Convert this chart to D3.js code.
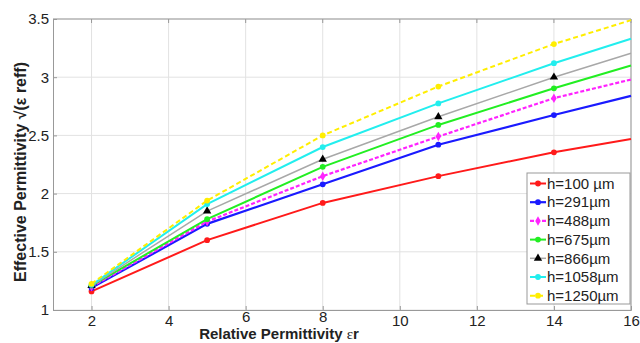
<!DOCTYPE html>
<html>
<head>
<meta charset="utf-8">
<script src="https://cdn.jsdelivr.net/npm/d3@7"></script>
<style>
  body { margin: 0; background: #fff; }
  text { font-family: "Liberation Sans", Arial, sans-serif; fill: #222; }
</style>
</head>
<body>
<svg id="chart" width="640" height="343"></svg>
<script>
// relative permittivity values (last point sits on the right edge, no marker)
const epsR = [2, 5, 8, 11, 14, 16];
const seriesNames = ["h=100 µm", "h=291µm", "h=488µm", "h=675µm", "h=866µm", "h=1058µm", "h=1250µm"];
const h100 = [1.16, 1.60, 1.92, 2.15, 2.355, 2.47];
const h291 = [1.19, 1.74, 2.08, 2.42, 2.675, 2.84];
const h488 = [1.20, 1.76, 2.15, 2.49, 2.82, 2.98];
const h675 = [1.21, 1.78, 2.23, 2.59, 2.905, 3.10];
const h866 = [1.21, 1.85, 2.295, 2.66, 3.00, 3.205];
const h1058 = [1.215, 1.91, 2.40, 2.775, 3.12, 3.33];
const h1250 = [1.225, 1.94, 2.50, 2.92, 3.285, 3.49];
const xTicks = [2, 4, 6, 8, 10, 12, 14, 16];
const yTicks = [1, 1.5, 2, 2.5, 3, 3.5];

const styles = [
  { color: "#ff1a1a", width: 2, dash: null, marker: "circle", mcolor: "#ff1a1a" },
  { color: "#1a1aff", width: 2.2, dash: null, marker: "circle", mcolor: "#1a1aff" },
  { color: "#ff22ff", width: 2.2, dash: "4,2", marker: "diamond", mcolor: "#ff22ff" },
  { color: "#22ee22", width: 2, dash: null, marker: "circle", mcolor: "#22ee22" },
  { color: "#a8a8a8", width: 1.5, dash: null, marker: "triangle", mcolor: "#000" },
  { color: "#22eeee", width: 2, dash: null, marker: "circle", mcolor: "#22eeee" },
  { color: "#ffee00", width: 2, dash: "5,3", marker: "circle", mcolor: "#ffee00" }
];
const allSeries = [h100, h291, h488, h675, h866, h1058, h1250];

const svg = d3.select("#chart");
const margin = { left: 53, right: 9, top: 19, bottom: 33 };
const width = +svg.attr("width");
const height = +svg.attr("height");

const x = d3.scaleLinear().domain([1, 16]).range([margin.left, width - margin.right]);
const y = d3.scaleLinear().domain([1, 3.5]).range([height - margin.bottom, margin.top]);

// grid
const grid = svg.append("g");
grid.selectAll(".gx").data(xTicks).enter().append("line")
  .attr("x1", d => x(d)).attr("x2", d => x(d))
  .attr("y1", y(1)).attr("y2", y(3.5))
  .attr("stroke", "#e2e2e2").attr("stroke-width", 1);
grid.selectAll(".gy").data(yTicks).enter().append("line")
  .attr("x1", x(1)).attr("x2", x(16))
  .attr("y1", d => y(d)).attr("y2", d => y(d))
  .attr("stroke", "#e2e2e2").attr("stroke-width", 1);

// axes
const xAxis = svg.append("g")
  .attr("transform", `translate(0,${y(1)})`)
  .call(d3.axisBottom(x).tickValues(xTicks).tickSize(-4).tickPadding(5).tickFormat(d3.format("d")));
const yAxis = svg.append("g")
  .attr("transform", `translate(${x(1)},0)`)
  .call(d3.axisLeft(y).tickValues(yTicks).tickSize(-4).tickPadding(4).tickFormat(d => d));
[xAxis, yAxis].forEach(a => {
  a.select(".domain").attr("stroke", "#999");
  a.selectAll(".tick line").attr("stroke", "#999");
  a.selectAll("text").style("font-size", "15px").attr("fill", "#222");
});
// 6 and 8 sit a little higher, as in the source figure
xAxis.selectAll(".tick text").filter(d => d === 6 || d === 8).attr("y", 1);

// top and right box edges with inner ticks
svg.append("line").attr("x1", x(1)).attr("x2", x(16)).attr("y1", y(3.5)).attr("y2", y(3.5))
  .attr("stroke", "#999");
svg.append("line").attr("x1", x(16)).attr("x2", x(16)).attr("y1", y(3.5)).attr("y2", y(1))
  .attr("stroke", "#999");
svg.append("g").selectAll("line").data(xTicks).enter().append("line")
  .attr("x1", d => x(d)).attr("x2", d => x(d))
  .attr("y1", y(3.5)).attr("y2", y(3.5) + 4).attr("stroke", "#999");

// lines
const line = d3.line().x((d, i) => x(epsR[i])).y(d => y(d));
const sym = {
  circle: d3.symbol().type(d3.symbolCircle).size(26),
  diamond: d3.symbol().type(d3.symbolDiamond).size(26),
  triangle: d3.symbol().type(d3.symbolTriangle).size(30)
};

allSeries.forEach((vals, k) => {
  const s = styles[k];
  svg.append("path")
    .datum(vals)
    .attr("d", line)
    .attr("fill", "none")
    .attr("stroke", s.color)
    .attr("stroke-width", s.width)
    .attr("stroke-dasharray", s.dash);
  svg.append("g").selectAll("path")
    .data(vals.slice(0, 5))
    .enter().append("path")
    .attr("transform", (d, i) => `translate(${x(epsR[i])},${y(d)})`)
    .attr("d", sym[s.marker]())
    .attr("fill", s.mcolor);
});

// legend
const lg = svg.append("g").attr("transform", "translate(527,173)");
lg.append("rect").attr("width", 103).attr("height", 131)
  .attr("fill", "#fff").attr("stroke", "#999");
seriesNames.forEach((name, k) => {
  const s = styles[k];
  const yy = 10.5 + k * 18.7;
  lg.append("line").attr("x1", 3).attr("x2", 19).attr("y1", yy).attr("y2", yy)
    .attr("stroke", s.color).attr("stroke-width", s.width).attr("stroke-dasharray", s.dash);
  lg.append("path").attr("transform", `translate(11,${yy})`)
    .attr("d", sym[s.marker]()).attr("fill", s.mcolor);
  lg.append("text").attr("x", 20).attr("y", yy).attr("dy", "0.35em")
    .style("font-size", "15px").text(name);
});

// axis titles
const xt = svg.append("text")
  .attr("x", 279).attr("y", 339)
  .attr("text-anchor", "middle")
  .style("font-size", "15px").style("font-weight", "bold");
xt.append("tspan").text("Relative Permittivity ");
xt.append("tspan").style("font-family", "'Liberation Serif', serif").style("font-weight", "normal").text("ε");
xt.append("tspan").text("r");

svg.append("text")
  .attr("transform", "translate(26,172) rotate(-90)")
  .attr("text-anchor", "middle")
  .style("font-size", "16px").style("font-weight", "bold")
  .text("Effective Permittivity √(ε reff)");
</script>
</body>
</html>
